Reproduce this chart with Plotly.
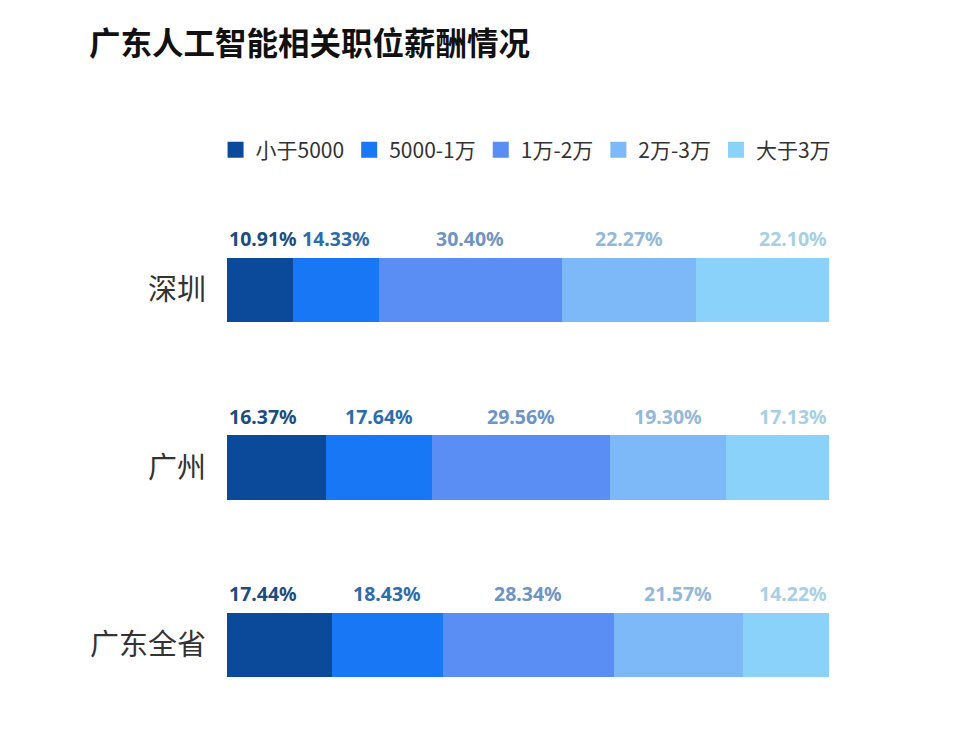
import plotly.graph_objects as go
import numpy as np

regions = ["深圳", "广州", "广东全省"]
brackets = ["小于5000", "5000-1万", "1万-2万", "2万-3万", "大于3万"]
shenzhen = [10.91, 14.33, 30.40, 22.27, 22.10]
guangzhou = [16.37, 17.64, 29.56, 19.30, 17.13]
guangdong = [17.44, 18.43, 28.34, 21.57, 14.22]

values = [shenzhen, guangzhou, guangdong]

bar_colors = ["#0B4A9B", "#1877F4", "#5A8EF5", "#7DB9F8", "#8BD2FA"]
label_colors = ["#1D4C7E", "#2D6CAB", "#6E93C4", "#93B8D9", "#A8CFE4"]

fig = go.Figure()

for j, b in enumerate(brackets):
    fig.add_trace(go.Bar(
        y=regions,
        x=[v[j] for v in values],
        orientation="h",
        marker=dict(color=bar_colors[j], line=dict(width=0)),
        width=0.366,
        showlegend=False,
        hoverinfo="x+y",
    ))
    fig.add_trace(go.Scatter(
        x=[None], y=[None], mode="markers", name=b,
        marker=dict(symbol="square", size=16, color=bar_colors[j]),
        showlegend=True,
    ))

totals = [float(np.sum(v)) for v in values]
xmax = max(totals)

annotations = []
for i, r in enumerate(regions):
    vals = values[i]
    cum = np.cumsum([0] + vals)
    total = cum[-1]
    for j, v in enumerate(vals):
        if j == 0:
            xpos, anc = 0, "left"
        elif j == len(vals) - 1:
            xpos, anc = total, "right"
        else:
            xpos, anc = (cum[j] + cum[j + 1]) / 2, "center"
        annotations.append(dict(
            x=xpos, y=r, xref="x", yref="y",
            text=f"<b>{v:.2f}%</b>", showarrow=False,
            xanchor=anc, yanchor="middle", yshift=51,
            font=dict(family="Noto Sans, Noto Sans CJK SC", size=19.5, color=label_colors[j]),
        ))

W, H = 952, 724
fig.update_layout(
    width=W, height=H,
    barmode="stack",
    plot_bgcolor="white", paper_bgcolor="white",
    margin=dict(l=219, r=W - 821, t=192, b=H - 692),
    title=dict(
        text="<b>广东人工智能相关职位薪酬情况</b>",
        x=81 / W, xref="container", xanchor="left",
        y=1 - 36 / H, yref="container", yanchor="middle",
        font=dict(family="Noto Sans CJK SC", size=31.5, color="#111111"),
    ),
    legend=dict(
        orientation="h", x=-0.019, xanchor="left", y=1.10, yanchor="middle",
        font=dict(family="Noto Sans CJK SC", size=21, color="#333333"),
        itemwidth=30, traceorder="normal",
    ),
    xaxis=dict(range=[0, xmax], visible=False, fixedrange=True),
    yaxis=dict(
        range=[2.31, -0.507], type="category",
        categoryorder="array", categoryarray=regions,
        showgrid=False, zeroline=False, showline=False, ticks="",
        ticklabelstandoff=20,
        tickfont=dict(family="Noto Sans CJK SC", size=29, color="#333333"),
    ),
    annotations=annotations,
)

fig.write_html("out.html")
